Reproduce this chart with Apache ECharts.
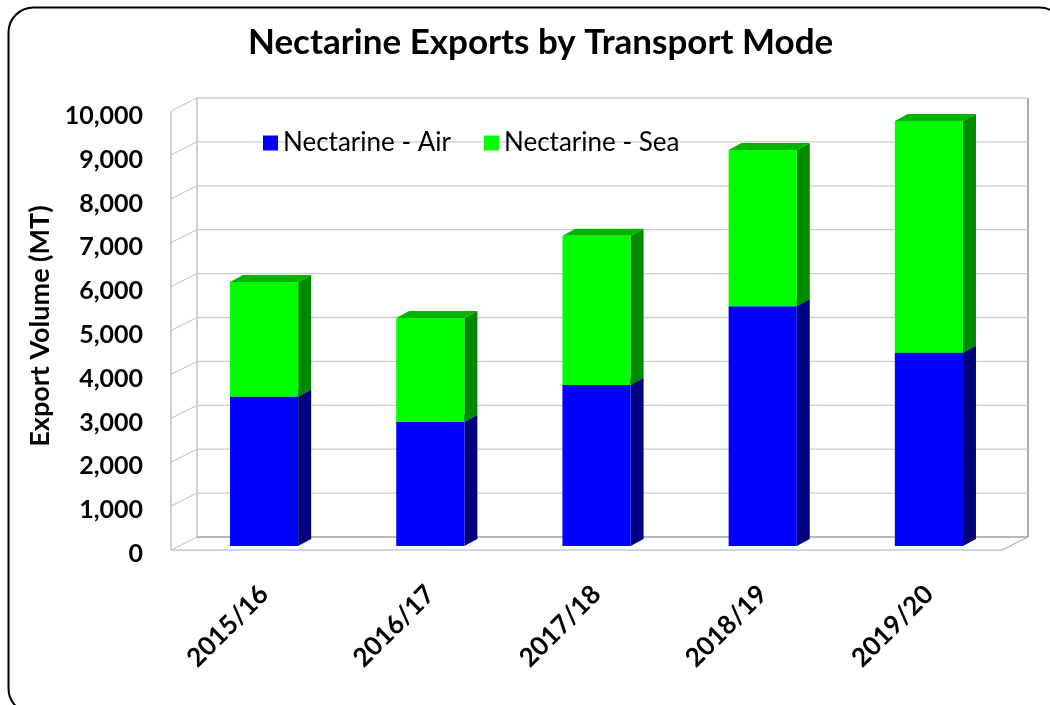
<!DOCTYPE html>
<html>
<head>
<meta charset="utf-8">
<script src="https://cdn.jsdelivr.net/npm/echarts@6/dist/echarts.min.js"></script>
<style>
html,body{margin:0;padding:0;background:#fff;}
#chart{width:1050px;height:705px;}
</style>
</head>
<body>
<div id="chart"></div>
<script>
// ---- data ----
var categories = ['2015/16', '2016/17', '2017/18', '2018/19', '2019/20'];
var airValues = [3390, 2820, 3660, 5450, 4390];
var seaValues = [2610, 2360, 3390, 3550, 5270];
var seriesNames = ['Nectarine - Air', 'Nectarine - Sea'];
var yTicks = [0, 1000, 2000, 3000, 4000, 5000, 6000, 7000, 8000, 9000, 10000];

var FONT = 'Lato';
var DEPTH_WALL = [-26, 13];   // back wall -> front floor edge
var DEPTH_BAR = [13, -7];     // bar front -> bar back

var colors = {
  air: {front: '#0000FF', side: '#00007E', top: '#0000C8'},
  sea: {front: '#00FF00', side: '#008A00', top: '#00B400'}
};

function barData(baseArr, valArr) {
  return valArr.map(function (v, i) { return [i, baseArr ? baseArr[i] : 0, (baseArr ? baseArr[i] : 0) + v]; });
}

function makeBarRender(c) {
  return function (params, api) {
    var i = api.value(0);
    var p0 = api.coord([i, api.value(1)]);
    var p1 = api.coord([i, api.value(2)]);
    var w = api.size([1, 0])[0] * 0.41;
    var x0 = p0[0] - w / 2, x1 = p0[0] + w / 2;
    var yb = p0[1], yt = p1[1];
    var dx = DEPTH_BAR[0], dy = DEPTH_BAR[1];
    return {
      type: 'group',
      children: [
        {type: 'polygon', shape: {points: [[x1, yb], [x1 + dx, yb + dy], [x1 + dx, yt + dy], [x1, yt]]}, style: {fill: c.side}},
        {type: 'polygon', shape: {points: [[x0, yt], [x1, yt], [x1 + dx, yt + dy], [x0 + dx, yt + dy]]}, style: {fill: c.top}},
        {type: 'rect', shape: {x: x0, y: yt, width: w, height: yb - yt}, style: {fill: c.front}}
      ]
    };
  };
}

function wallRender(params, api) {
  var v = api.value(0);
  var L = api.coord([0, v]);
  var R = api.coord([1, v]);
  var children = [];
  if (v === 0) {
    var fl = [L[0] + DEPTH_WALL[0], L[1] + DEPTH_WALL[1]];
    var fr = [R[0] + DEPTH_WALL[0], R[1] + DEPTH_WALL[1]];
    var Ltop = api.coord([0, yTicks[yTicks.length - 1]]);
    var Rtop = api.coord([1, yTicks[yTicks.length - 1]]);
    children.push({type: 'line', shape: {x1: fl[0], y1: fl[1], x2: fr[0], y2: fr[1]}, style: {stroke: '#C9D9EE', lineWidth: 2}});
    children.push({type: 'line', shape: {x1: R[0], y1: R[1], x2: fr[0], y2: fr[1]}, style: {stroke: '#A0A0A0', lineWidth: 1}});
    children.push({type: 'line', shape: {x1: fl[0], y1: fl[1], x2: Ltop[0] + DEPTH_WALL[0], y2: Ltop[1] + DEPTH_WALL[1]}, style: {stroke: '#A0A0A0', lineWidth: 1}});
    children.push({type: 'line', shape: {x1: L[0], y1: L[1], x2: Ltop[0], y2: Ltop[1]}, style: {stroke: '#A0A0A0', lineWidth: 1}});
    children.push({type: 'line', shape: {x1: R[0], y1: R[1], x2: Rtop[0], y2: Rtop[1]}, style: {stroke: '#909090', lineWidth: 1.5}});
  }
  children.push({type: 'line', shape: {x1: L[0], y1: L[1], x2: R[0], y2: R[1]}, style: {stroke: v === 0 ? '#A0A0A0' : '#CDCDCD', lineWidth: 1.3}});
  children.push({type: 'line', shape: {x1: L[0], y1: L[1], x2: L[0] + DEPTH_WALL[0], y2: L[1] + DEPTH_WALL[1]}, style: {stroke: '#C0C0C0', lineWidth: 1}});
  return {type: 'group', children: children};
}

var chart = echarts.init(document.getElementById('chart'), null, {renderer: 'canvas'});
var option = {
  backgroundColor: '#fff',
  animation: false,
  textStyle: {fontFamily: FONT},
  title: {
    text: 'Nectarine Exports by Transport Mode',
    left: 243, top: 20,
    textStyle: {fontFamily: FONT, fontSize: 35, fontWeight: 'bold', color: '#000'}
  },
  legend: {
    data: seriesNames,
    left: 258, top: 125,
    icon: 'rect', itemWidth: 15, itemHeight: 15, itemGap: 33,
    textStyle: {fontFamily: FONT, fontSize: 26, color: '#000'}
  },
  graphic: [{
    type: 'rect', left: 6, top: 5, z: 100,
    shape: {x: 0, y: 0, width: 1056, height: 706, r: 25},
    style: {fill: 'none', stroke: '#000', lineWidth: 2}
  }],
  grid: [
    {left: 197, top: 98, width: 831, height: 439},
    {left: 181, top: 106, width: 831, height: 440},
    {left: 171, top: 116, width: 831, height: 438}
  ],
  xAxis: [
    {gridIndex: 0, type: 'value', min: 0, max: 1, show: false},
    {gridIndex: 1, type: 'category', data: categories,
      axisLine: {show: false}, axisTick: {show: false},
      axisLabel: {rotate: 45, margin: 44, fontFamily: FONT, fontSize: 26, fontWeight: 'bold', color: '#000'}},
    {gridIndex: 2, type: 'value', min: 0, max: 1, show: false}
  ],
  yAxis: [
    {gridIndex: 0, type: 'value', min: 0, max: 10000, interval: 1000, show: false},
    {gridIndex: 1, type: 'value', min: 0, max: 10000, interval: 1000, show: false},
    {gridIndex: 2, type: 'value', min: 0, max: 10000, interval: 1000,
      axisLine: {show: false}, axisTick: {show: false}, splitLine: {show: false},
      axisLabel: {margin: 28, fontFamily: FONT, fontSize: 25, fontWeight: 'bold', color: '#000',
        formatter: function (v) { return v.toLocaleString('en-US'); }},
      name: 'Export Volume (MT)', nameLocation: 'middle', nameGap: 117, nameRotate: 90,
      nameTextStyle: {fontFamily: FONT, fontSize: 27, fontWeight: 'bold', color: '#000', padding: [0, 0, 0, 18]}}
  ],
  series: [
    {type: 'custom', name: 'walls', xAxisIndex: 0, yAxisIndex: 0, silent: true, z: 1,
      data: yTicks.map(function (t) { return [t]; }), renderItem: wallRender, encode: {y: 0}},
    {type: 'custom', name: seriesNames[0], xAxisIndex: 1, yAxisIndex: 1, z: 2,
      itemStyle: {color: colors.air.front},
      data: barData(null, airValues), renderItem: makeBarRender(colors.air), encode: {x: 0, y: [1, 2]}},
    {type: 'custom', name: seriesNames[1], xAxisIndex: 1, yAxisIndex: 1, z: 3,
      itemStyle: {color: colors.sea.front},
      data: barData(airValues, seaValues), renderItem: makeBarRender(colors.sea), encode: {x: 0, y: [1, 2]}}
  ]
};
chart.setOption(option);
</script>
</body>
</html>
